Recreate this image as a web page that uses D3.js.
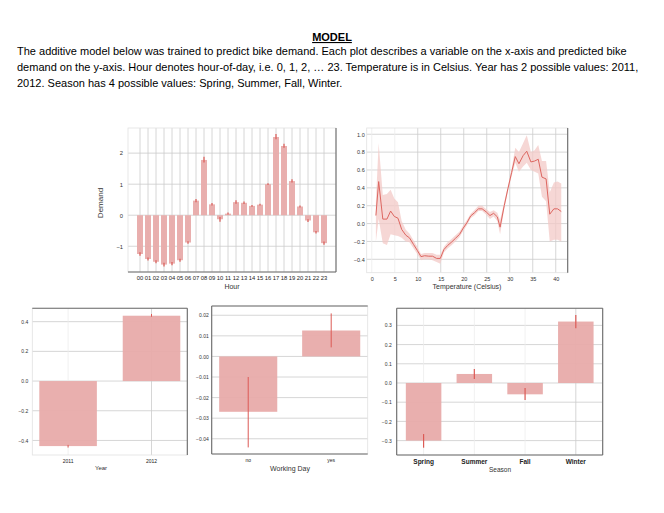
<!DOCTYPE html>
<html><head><meta charset="utf-8">
<script src="https://cdn.jsdelivr.net/npm/d3@7"></script>
<style>body{margin:0;background:#fff} svg{display:block}</style>
</head><body><svg id="c" width="664" height="513"></svg>
<script>
// ---------- DATA ----------
const headerTitle = "MODEL";
const headerLines = [
  "The additive model below was trained to predict bike demand. Each plot describes a variable on the x-axis and predicted bike",
  "demand on the y-axis. Hour denotes hour-of-day, i.e. 0, 1, 2, … 23. Temperature is in Celsius. Year has 2 possible values: 2011,",
  "2012. Season has 4 possible values: Spring, Summer, Fall, Winter."
];
const hourLabels = ["00","01","02","03","04","05","06","07","08","09","10","11","12","13","14","15","16","17","18","19","20","21","22","23"];
const hourValues = [-1.25,-1.41,-1.50,-1.59,-1.56,-1.45,-0.88,0.47,1.78,0.35,-0.13,0.05,0.42,0.40,0.30,0.34,1.00,2.52,2.23,1.10,0.28,-0.17,-0.55,-0.90];
const hourLo = [-1.31,-1.46,-1.55,-1.65,-1.61,-1.50,-0.92,0.42,1.70,0.31,-0.21,0.02,0.37,0.36,0.27,0.31,0.97,2.45,2.17,1.05,0.25,-0.22,-0.59,-0.95];
const hourHi = [-1.19,-1.36,-1.45,-1.53,-1.51,-1.40,-0.84,0.52,1.88,0.39,-0.06,0.09,0.48,0.44,0.33,0.37,1.03,2.62,2.30,1.16,0.31,-0.13,-0.51,-0.85];
const hourTicks = [-1,0,1,2];

const tempX  = [0.9,1.5,2.4,3.3,4.1,4.9,5.7,6.5,7.4,8.2,9.1,9.9,10.7,11.5,12.4,13.2,14.1,14.9,15.7,16.5,17.4,18.2,19.1,19.9,20.7,21.5,22.3,23.2,24.0,24.9,25.7,26.5,27.3,27.9,28.8,29.6,30.4,31.2,32.0,32.9,33.7,34.6,35.4,36.2,37.0,37.9,38.7,39.6,40.4,41.2];
const tempY  = [0.09,0.47,0.05,0.05,0.14,0.08,0.06,-0.065,-0.13,-0.16,-0.235,-0.30,-0.37,-0.36,-0.365,-0.365,-0.39,-0.39,-0.29,-0.245,-0.205,-0.165,-0.12,-0.05,0.01,0.085,0.12,0.165,0.165,0.13,0.09,0.115,0.075,-0.04,0.20,0.39,0.57,0.75,0.67,0.76,0.81,0.69,0.70,0.72,0.52,0.50,0.105,0.165,0.165,0.135];
const tempLo = [-0.20,0.05,-0.22,-0.24,-0.12,-0.13,-0.14,-0.16,-0.20,-0.21,-0.28,-0.34,-0.41,-0.40,-0.40,-0.41,-0.43,-0.45,-0.32,-0.28,-0.24,-0.20,-0.15,-0.08,-0.02,0.06,0.09,0.14,0.14,0.10,0.05,0.08,0.03,-0.12,0.16,0.36,0.53,0.68,0.58,0.64,0.68,0.60,0.58,0.56,0.30,0.25,-0.20,-0.18,-0.18,-0.20];
const tempHi = [0.25,0.90,0.32,0.33,0.38,0.28,0.24,0.03,-0.07,-0.11,-0.19,-0.26,-0.34,-0.33,-0.33,-0.33,-0.35,-0.35,-0.26,-0.21,-0.17,-0.13,-0.09,-0.02,0.04,0.11,0.15,0.20,0.20,0.16,0.13,0.15,0.12,0.04,0.24,0.42,0.61,0.85,0.80,0.90,0.99,0.80,0.82,0.88,0.70,0.70,0.35,0.46,0.47,0.45];
const tempXTicks = [0,5,10,15,20,25,30,35,40];
const tempYTicks = [-0.4,-0.2,0,0.2,0.4,0.6,0.8,1.0];

const yearCats = ["2011","2012"];
const yearValues = [-0.438,0.44];
const yearLo = [-0.448,0.433];
const yearHi = [-0.430,0.452];
const yearTicks = [-0.4,-0.2,0,0.2,0.4];

const workCats = ["no","yes"];
const workValues = [-0.0269,0.0126];
const workLo = [-0.0442,0.0044];
const workHi = [-0.0100,0.0209];
const workTicks = [-0.04,-0.03,-0.02,-0.01,0,0.01,0.02];

const seasonCats = ["Spring","Summer","Fall","Winter"];
const seasonValues = [-0.30,0.047,-0.059,0.32];
const seasonLo = [-0.337,0.021,-0.089,0.285];
const seasonHi = [-0.266,0.073,-0.026,0.354];
const seasonTicks = [-0.3,-0.2,-0.1,0,0.1,0.2,0.3];

// ---------- STYLE ----------
const FONT = "'Liberation Sans', Arial, sans-serif";
const BAR = "#e8abaa";
const ERR = "#dc5a55";
const GRID = "#cccccc";
const LIGHTGRID = "#ececec";
const SPINE = "#6a6a6a";

const svg = d3.select("#c");
svg.append("rect").attr("width",664).attr("height",513).attr("fill","#fff");

// ---------- HEADER ----------
svg.append("text").attr("x",332).attr("y",41).attr("text-anchor","middle")
  .attr("font-family",FONT).attr("font-size",11).attr("font-weight","bold")
  .attr("text-decoration","underline").attr("fill","#000").text(headerTitle);
headerLines.forEach((t,i)=>{
  svg.append("text").attr("x",17).attr("y",55+i*16)
    .attr("font-family",FONT).attr("font-size",11).attr("fill","#000").text(t);
});

// ---------- helpers ----------
function frame(g,x0,x1,y0,y1,dark){
  g.append("rect").attr("x",x0).attr("y",y0).attr("width",x1-x0).attr("height",y1-y0)
    .attr("fill","none").attr("stroke","#e2e2e2").attr("stroke-width",0.8);
  const seg = {top:[x0,y0,x1,y0],bottom:[x0,y1,x1,y1],left:[x0,y0,x0,y1],right:[x1,y0,x1,y1]};
  dark.forEach(s=>{
    const [a,b,c,d]=seg[s];
    g.append("line").attr("x1",a).attr("y1",b).attr("x2",c).attr("y2",d)
      .attr("stroke",SPINE).attr("stroke-width",1.1);
  });
}

function barPanel(o){
  const g = svg.append("g");
  const x = d3.scaleBand().domain(o.cats).range([o.x0,o.x1]).paddingInner(o.pi).paddingOuter(o.po);
  const y = d3.scaleLinear().domain(o.domain).range([o.y1,o.y0]);
  g.selectAll(".hg").data(o.ticks).join("line")
    .attr("x1",o.x0).attr("x2",o.x1).attr("y1",d=>y(d)).attr("y2",d=>y(d))
    .attr("stroke",GRID).attr("stroke-width",0.8);
  g.selectAll(".vg").data(o.cats).join("line")
    .attr("x1",d=>x(d)+x.bandwidth()/2).attr("x2",d=>x(d)+x.bandwidth()/2)
    .attr("y1",o.y0).attr("y2",o.y1)
    .attr("stroke",(d,i)=>o.vgColors?o.vgColors[i]:GRID).attr("stroke-width",0.8);
  g.selectAll(".bar").data(o.cats).join("rect")
    .attr("x",d=>x(d)).attr("width",x.bandwidth())
    .attr("y",(d,i)=>Math.min(y(o.vals[i]),y(0)))
    .attr("height",(d,i)=>Math.abs(y(o.vals[i])-y(0)))
    .attr("fill",BAR).attr("fill-opacity",0.95);
  g.selectAll(".err").data(o.cats).join("line")
    .attr("x1",d=>x(d)+x.bandwidth()/2).attr("x2",d=>x(d)+x.bandwidth()/2)
    .attr("y1",(d,i)=>y(o.lo[i])).attr("y2",(d,i)=>y(o.hi[i]))
    .attr("stroke",ERR).attr("stroke-width",o.errW||1);
  frame(g,o.x0,o.x1,o.y0,o.y1,o.dark);
  const ya = g.append("g").attr("transform",`translate(${o.x0},0)`)
    .call(d3.axisLeft(y).tickValues(o.ticks).tickSize(0).tickPadding(o.ypad).tickFormat(o.fmt));
  ya.select(".domain").remove();
  ya.selectAll("text").attr("font-family",FONT).attr("font-size",o.tfs).attr("fill","#333");
  const xa = g.append("g").attr("transform",`translate(0,${o.y1})`)
    .call(d3.axisBottom(x).tickSize(0).tickPadding(o.xpad));
  xa.select(".domain").remove();
  xa.selectAll("text").attr("font-family",FONT).attr("font-size",o.xfs||o.tfs).attr("fill","#222")
    .attr("font-weight",o.xbold?"bold":"normal");
  g.append("text").attr("x",o.xlabel[1]).attr("y",o.xlabel[2]).attr("text-anchor","middle")
    .attr("font-family",FONT).attr("font-size",o.lfs).attr("fill","#333").text(o.xlabel[0]);
  if(o.ylabel){
    g.append("text").attr("transform",`translate(${o.ylabel[1]},${o.ylabel[2]}) rotate(-90)`)
      .attr("text-anchor","middle").attr("font-family",FONT).attr("font-size",o.ylfs)
      .attr("fill","#333").text(o.ylabel[0]);
  }
}

// ---------- HOUR ----------
barPanel({cats:hourLabels, vals:hourValues, lo:hourLo, hi:hourHi,
  x0:128, x1:336, y0:128, y1:272, domain:[-1.83,2.81], ticks:hourTicks,
  fmt:d3.format("d"), pi:0.25, po:1.125, dark:["right","bottom"],
  ypad:5, xpad:3.5, tfs:5.8, lfs:7, ylfs:8, xlabel:["Hour",232,288.5], ylabel:["Demand",103,203], errW:1.2});

// ---------- TEMPERATURE ----------
(function(){
  const g = svg.append("g");
  const x0=366.7,x1=567.7,y0=128,y1=272.7;
  const x = d3.scaleLinear().domain([-1.1,42.6]).range([x0,x1]);
  const y = d3.scaleLinear().domain([-0.55,1.07]).range([y1,y0]);
  g.selectAll(".hg").data(tempYTicks).join("line")
    .attr("x1",x0).attr("x2",x1).attr("y1",d=>y(d)).attr("y2",d=>y(d))
    .attr("stroke",GRID).attr("stroke-width",0.8);
  g.selectAll(".vg").data(tempXTicks).join("line")
    .attr("x1",d=>x(d)).attr("x2",d=>x(d)).attr("y1",y0).attr("y2",y1)
    .attr("stroke",d=>(d===0||d===5)?LIGHTGRID:GRID).attr("stroke-width",0.8);
  const pts = tempX.map((t,i)=>({t,v:tempY[i],lo:tempLo[i],hi:tempHi[i]}));
  g.append("path").datum(pts)
    .attr("d",d3.area().x(d=>x(d.t)).y0(d=>y(d.lo)).y1(d=>y(d.hi)))
    .attr("fill","#f3c9c7").attr("fill-opacity",0.75);
  g.append("path").datum(pts)
    .attr("d",d3.line().x(d=>x(d.t)).y(d=>y(d.v)))
    .attr("fill","none").attr("stroke","#dd6660").attr("stroke-width",1);
  frame(g,x0,x1,y0,y1,["right"]);
  const ya = g.append("g").attr("transform",`translate(${x0},0)`)
    .call(d3.axisLeft(y).tickValues(tempYTicks).tickSize(0).tickPadding(2).tickFormat(d3.format(".1f")));
  ya.select(".domain").remove();
  ya.selectAll("text").attr("font-family",FONT).attr("font-size",5.5).attr("fill","#333");
  const xa = g.append("g").attr("transform",`translate(0,${y1})`)
    .call(d3.axisBottom(x).tickValues(tempXTicks).tickSize(0).tickPadding(4).tickFormat(d3.format("d")));
  xa.select(".domain").remove();
  xa.selectAll("text").attr("font-family",FONT).attr("font-size",5.5).attr("fill","#333");
  g.append("text").attr("x",467).attr("y",289).attr("text-anchor","middle")
    .attr("font-family",FONT).attr("font-size",7).attr("fill","#333").text("Temperature (Celsius)");
})();

// ---------- YEAR ----------
barPanel({cats:yearCats, vals:yearValues, lo:yearLo, hi:yearHi,
  x0:32.3, x1:187.3, y0:308.3, y1:455, domain:[-0.498,0.49], ticks:yearTicks,
  fmt:d3.format(".1f"), pi:0.31, po:0.084, dark:["top","right"],
  vgColors:[LIGHTGRID,GRID],
  ypad:4, xpad:4, tfs:5, lfs:6, xlabel:["Year",101,470]});

// ---------- WORKING DAY ----------
barPanel({cats:workCats, vals:workValues, lo:workLo, hi:workHi,
  x0:211.7, x1:367.7, y0:306, y1:454, domain:[-0.0474,0.0245], ticks:workTicks,
  fmt:d3.format(".2f"), pi:0.30, po:0.09, dark:["top","left","bottom"],
  vgColors:["none","none"],
  ypad:3, xpad:4, tfs:5, lfs:7, xlabel:["Working Day",290,470.5]});

// ---------- SEASON ----------
barPanel({cats:seasonCats, vals:seasonValues, lo:seasonLo, hi:seasonHi,
  x0:396.7, x1:602.7, y0:308.3, y1:455, domain:[-0.375,0.389], ticks:seasonTicks,
  fmt:d3.format(".1f"), pi:0.30, po:0.18, dark:["top","left","bottom","right"],
  vgColors:[LIGHTGRID,LIGHTGRID,LIGHTGRID,GRID],
  ypad:5, xpad:4, tfs:5, xfs:6.5, xbold:true, lfs:6.5, xlabel:["Season",500,472], errW:1.2});
</script></body></html>
